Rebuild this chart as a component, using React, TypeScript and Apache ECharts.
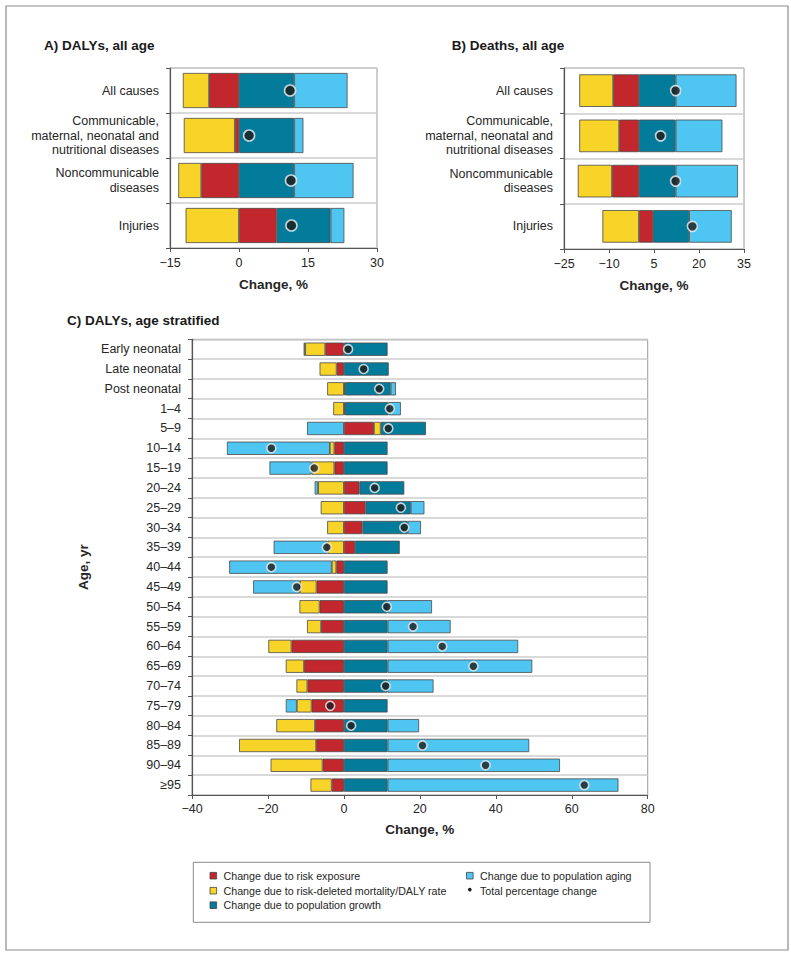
import React, { useEffect, useRef } from "react";
import * as echarts from "echarts";

// ---------- DATA ----------
const NAME_RISK = "Change due to risk exposure";
const NAME_RATE = "Change due to risk-deleted mortality/DALY rate";
const NAME_GROWTH = "Change due to population growth";
const NAME_AGING = "Change due to population aging";
const NAME_TOTAL = "Total percentage change";

const causeCategories = [
  "All causes",
  "Communicable,\nmaternal, neonatal and\nnutritional diseases",
  "Noncommunicable\ndiseases",
  "Injuries",
];

// Panel A: DALYs, all age
const dalyRisk = [-6.5, -0.9, -8.2, 8.2];
const dalyRate = [-5.7, -11.1, -5.0, -11.6];
const dalyGrowth = [12.0, 12.0, 12.0, 11.7];
const dalyAging = [11.6, 2.0, 12.9, 3.0];
const dalyTotal = [11.1, 2.2, 11.3, 11.4];

// Panel B: Deaths, all age
const deathRisk = [-8.6, -6.6, -9.0, 4.7];
const deathRate = [-11.3, -13.3, -11.4, -12.2];
const deathGrowth = [12.2, 12.2, 12.2, 12.0];
const deathAging = [20.3, 15.6, 20.8, 14.2];
const deathTotal = [12.2, 7.2, 12.2, 17.8];

// Panel C: DALYs, age stratified
const ageCategories = [
  "Early neonatal", "Late neonatal", "Post neonatal", "1\u20134", "5\u20139",
  "10\u201314", "15\u201319", "20\u201324", "25\u201329", "30\u201334", "35\u201339",
  "40\u201344", "45\u201349", "50\u201354", "55\u201359", "60\u201364", "65\u201369",
  "70\u201374", "75\u201379", "80\u201384", "85\u201389", "90\u201394", "\u226595",
];
const ageRisk = [-4.9, -1.9, 0.3, 0.3, 7.9, -2.5, -2.5, 4.1, 5.7, 4.9, 2.9, -2.0, -7.2, -6.4, -6.0, -13.8, -10.5, -9.6, -8.5, -7.6, -7.3, -5.6, -3.2];
const ageRate = [-5.3, -4.5, -4.4, -2.8, 1.8, -1.2, -6.0, -6.8, -6.1, -4.4, -4.3, -1.2, -4.4, -5.3, -3.7, -6.1, -4.8, -2.9, -3.9, -10.2, -20.3, -13.7, -5.6];
const ageGrowth = [11.5, 11.8, 12.0, 11.5, 11.9, 11.5, 11.5, 11.8, 11.9, 11.9, 11.8, 11.5, 11.5, 11.5, 11.5, 11.5, 11.5, 11.5, 11.5, 11.5, 11.5, 11.5, 11.5];
const ageAging = [-0.4, 0, 1.4, 3.2, -9.7, -27.1, -11.1, -0.9, 3.6, 3.5, -14.2, -27.0, -12.3, 11.7, 16.6, 34.4, 38.1, 12.1, -2.9, 8.3, 37.3, 45.4, 60.8];
const ageTotal = [1.1, 5.2, 9.3, 12.1, 11.7, -19.1, -7.8, 8.1, 15.0, 15.9, -4.5, -19.1, -12.4, 11.3, 18.2, 25.9, 34.1, 11.0, -3.6, 1.9, 20.7, 37.3, 63.3];

// ---------- STYLE ----------
const COLORS = {
  risk: "#c1272d",
  rate: "#f8d328",
  growth: "#037c9c",
  aging: "#4fc6f2",
};
const FONT = "'Liberation Sans', Arial, Helvetica, sans-serif";
const TEXT = "#262626";
const AXIS = "#555555";

const minus = (v: number) => String(v).replace("-", "\u2212");

function panelSeries(
  gi: number,
  risk: number[],
  rate: number[],
  growth: number[],
  aging: number[],
  total: number[],
  barWidth: string,
  dotSize: number
) {
  const bar = (name: string, color: string, arr: number[]) => ({
    type: "bar",
    name,
    xAxisIndex: gi,
    yAxisIndex: gi,
    stack: "s" + gi,
    barWidth,
    silent: true,
    data: arr.map((v) => (v === 0 ? "-" : v)),
    itemStyle: { color, borderColor: "#4a4a4a", borderWidth: 0.8 },
  });
  return [
    bar(NAME_RISK, COLORS.risk, risk),
    bar(NAME_RATE, COLORS.rate, rate),
    bar(NAME_GROWTH, COLORS.growth, growth),
    bar(NAME_AGING, COLORS.aging, aging),
    {
      type: "scatter",
      name: NAME_TOTAL,
      xAxisIndex: gi,
      yAxisIndex: gi,
      symbol: "circle",
      symbolSize: dotSize,
      silent: true,
      z: 5,
      data: total.map((v, i) => [v, i]),
      itemStyle: { color: "#1c1c1c", borderColor: "#f2f2f2", borderWidth: 1.6 },
    },
  ];
}

function valueAxis(gi: number, min: number, max: number, interval: number, gap: number, labelMargin: number) {
  return {
    type: "value",
    gridIndex: gi,
    min,
    max,
    interval,
    name: "Change, %",
    nameLocation: "middle",
    nameGap: gap,
    nameTextStyle: { fontFamily: FONT, fontSize: 13.5, fontWeight: "bold", color: TEXT },
    axisLine: { show: true, lineStyle: { color: AXIS, width: 1.2 } },
    axisTick: { show: true, length: 4, lineStyle: { color: AXIS } },
    axisLabel: { fontFamily: FONT, fontSize: 12.5, color: TEXT, margin: labelMargin, formatter: minus },
    splitLine: { show: false },
  };
}

function categoryAxis(gi: number, cats: string[], extra: any = {}) {
  return {
    type: "category",
    gridIndex: gi,
    data: cats,
    inverse: true,
    axisLine: { show: true, onZero: false, lineStyle: { color: AXIS, width: 1.2 } },
    axisTick: { show: true, length: 4, lineStyle: { color: AXIS } },
    axisLabel: { fontFamily: FONT, fontSize: 12.5, color: TEXT, margin: 11, lineHeight: 14.5, align: "right" },
    splitLine: { show: true, lineStyle: { color: "#cdcdcd", width: 1.5 } },
    ...extra,
  };
}

export default function App() {
  const ref = useRef<HTMLDivElement>(null);

  useEffect(() => {
    if (!ref.current) return;
    const chart = echarts.init(ref.current, undefined, { renderer: "svg" });

    const gridStyle = { show: true, borderColor: "#9a9a9a", borderWidth: 1, backgroundColor: "transparent" };

    const legendRows = [
      { x: 210, y: 875.7, name: NAME_RISK, color: COLORS.risk },
      { x: 210, y: 890.7, name: NAME_RATE, color: COLORS.rate },
      { x: 210, y: 905.2, name: NAME_GROWTH, color: COLORS.growth },
      { x: 466.5, y: 875.7, name: NAME_AGING, color: COLORS.aging },
    ];
    const legendGraphics: any[] = [];
    legendRows.forEach((r) => {
      legendGraphics.push({
        type: "rect",
        shape: { x: r.x, y: r.y - 3.3, width: 6.6, height: 6.6 },
        style: { fill: r.color, stroke: "#444", lineWidth: 0.8 },
      });
      legendGraphics.push({
        type: "text",
        x: r.x + 13.5,
        y: r.y,
        style: { text: r.name, fontFamily: FONT, fontSize: 10.7, fill: TEXT, verticalAlign: "middle" },
      });
    });
    legendGraphics.push({
      type: "circle",
      shape: { cx: 469.8, cy: 889.6, r: 1.8 },
      style: { fill: "#1c1c1c" },
    });
    legendGraphics.push({
      type: "text",
      x: 480,
      y: 890.7,
      style: { text: NAME_TOTAL, fontFamily: FONT, fontSize: 10.7, fill: TEXT, verticalAlign: "middle" },
    });

    const titleStyle = { fontFamily: FONT, fontSize: 13.5, fontWeight: "bold", fill: "#1a1a1a", verticalAlign: "middle" };

    chart.setOption({
      animation: false,
      backgroundColor: "#ffffff",
      textStyle: { fontFamily: FONT },
      grid: [
        { left: 170, top: 68, width: 207, height: 180, ...gridStyle },
        { left: 564, top: 68, width: 180, height: 181, ...gridStyle },
        { left: 192, top: 339.3, width: 455.7, height: 455.7, ...gridStyle },
      ],
      xAxis: [
        valueAxis(0, -15, 30, 15, 29.5, 8),
        valueAxis(1, -25, 35, 15, 29, 8),
        valueAxis(2, -40, 80, 20, 27, 7),
      ],
      yAxis: [
        categoryAxis(0, causeCategories),
        categoryAxis(1, causeCategories),
        categoryAxis(2, ageCategories, {
          name: "Age, yr",
          nameLocation: "middle",
          nameRotate: 90,
          nameGap: 58,
          nameTextStyle: { fontFamily: FONT, fontSize: 13.5, fontWeight: "bold", color: TEXT },
        }),
      ],
      series: [
        ...panelSeries(0, dalyRisk, dalyRate, dalyGrowth, dalyAging, dalyTotal, "78%", 11),
        ...panelSeries(1, deathRisk, deathRate, deathGrowth, deathAging, deathTotal, "72%", 10),
        ...panelSeries(2, ageRisk, ageRate, ageGrowth, ageAging, ageTotal, "67%", 9),
      ],
      graphic: [
        {
          type: "rect",
          silent: true,
          shape: { x: 6, y: 6, width: 782, height: 944 },
          style: { fill: "none", stroke: "#8c8c8c", lineWidth: 1.2 },
        },
        { type: "text", x: 44, y: 45.7, style: { text: "A) DALYs, all age", ...titleStyle } },
        { type: "text", x: 451.7, y: 45.7, style: { text: "B) Deaths, all age", ...titleStyle } },
        { type: "text", x: 67, y: 320, style: { text: "C) DALYs, age stratified", ...titleStyle } },
        {
          type: "rect",
          silent: true,
          shape: { x: 193.3, y: 862.3, width: 456.7, height: 60 },
          style: { fill: "none", stroke: "#8a8a8a", lineWidth: 1 },
        },
        ...legendGraphics,
      ],
    });

    return () => chart.dispose();
  }, []);

  return (
    <div
      ref={ref}
      style={{ position: "absolute", left: 0, top: 0, width: 791, height: 958, background: "#fff" }}
    />
  );
}
